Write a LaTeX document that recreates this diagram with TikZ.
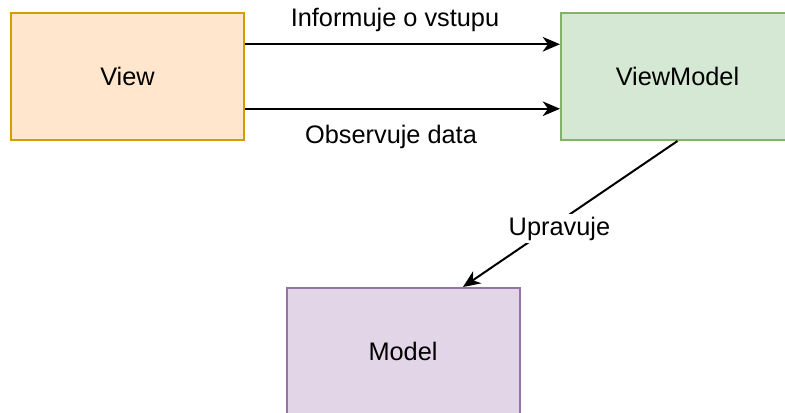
\documentclass[tikz,border=0pt]{standalone}
\usepackage{fontspec}
\setmainfont{Liberation Sans}
\usetikzlibrary{arrows.meta,calc,positioning}
\definecolor{viewfill}{HTML}{FFE6CC}
\definecolor{viewline}{HTML}{D79B00}
\definecolor{vmfill}{HTML}{D5E8D4}
\definecolor{vmline}{HTML}{82B366}
\definecolor{modelfill}{HTML}{E1D5E7}
\definecolor{modelline}{HTML}{9673A6}
\tikzset{
    block/.style={rectangle, line width=1.5pt, minimum width=174.75pt, minimum height=95.25pt, inner sep=0pt},
    conn/.style={line width=1.5pt, -{Stealth[length=13pt,width=11pt,inset=4pt]}},
    lbl/.style={inner sep=2pt}
}

\begin{document}
\begin{tikzpicture}[x=0.75pt,y=-0.75pt,font=\fontsize{19}{22}\selectfont]
    \useasboundingbox (0,0) rectangle (785,412);
    \clip (0,0) rectangle (785,412);

    % boxes
    \node[block, draw=viewline, fill=viewfill] (view) at (127.5,76.5) {View};
    \node[block, draw=vmline, fill=vmfill] (vm) at (677.5,76.5) {ViewModel};
    \node[block, draw=modelline, fill=modelfill] (model) at (403,351.5) {Model};

    % arrow ends
    \coordinate (v1) at ($(view.north east)!0.25!(view.south east)$);
    \coordinate (v2) at ($(view.north east)!0.75!(view.south east)$);
    \coordinate (m1) at ($(vm.north west)!0.25!(vm.south west)$);
    \coordinate (m2) at ($(vm.north west)!0.75!(vm.south west)$);
    \coordinate (mt) at ($(model.north west)!0.755!(model.north east)$);

    % connectors
    \draw[conn] (v1) -- (m1);
    \draw[conn] (v2) -- (m2);
    \draw[conn] (vm.south) -- (mt) node[lbl, fill=white, pos=0.6, xshift=8pt] (upr) {Upravuje};

    % labels
    \node[lbl] (inf) at (395,20) {Informuje o vstupu};
    \node[lbl] (obs) at (391,137) {Observuje data};
\end{tikzpicture}
\end{document}
